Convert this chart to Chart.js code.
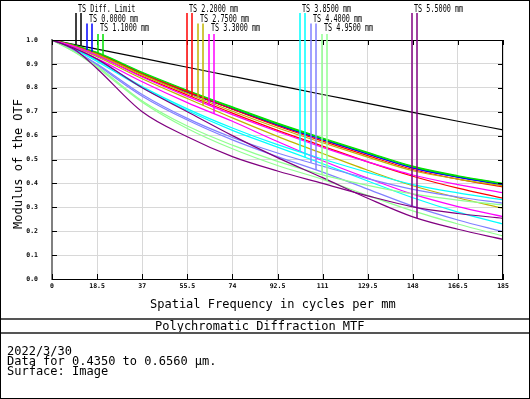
<!DOCTYPE html>
<html>
<head>
<meta charset="utf-8">
<script src="https://cdn.jsdelivr.net/npm/chart.js@4"></script>
<style>
  body { margin: 0; background: #fff; }
  #frame { position: relative; width: 530px; height: 399px; box-sizing: border-box;
    border: 1px solid #000; font-family: 'DejaVu Sans Mono', monospace; color: #000; overflow: hidden; }
  #chart { position: absolute; left: -1px; top: -1px; }
  .txt { position: absolute; font-size: 12px; line-height: 10px; white-space: pre; }
  .lbl { position: absolute; font-size: 10px; line-height: 10px; white-space: pre;
    transform: scaleX(0.68); transform-origin: 0 50%; }
  .sep { position: absolute; left: 0; width: 528px; height: 0; border-top: 2px solid #555; }
</style>
</head>
<body>
<div id="frame">
  <canvas id="chart" width="530" height="399"></canvas>
  <div class="txt" style="left:149px;top:298px">Spatial Frequency in cycles per mm</div>
  <div class="txt" style="left:17px;top:163px;transform:translate(-50%,-50%) rotate(-90deg)">Modulus of the OTF</div>
  <div class="sep" style="top:317px"></div>
  <div class="txt" style="left:154px;top:320px">Polychromatic Diffraction MTF</div>
  <div class="sep" style="top:331px"></div>
  <div class="txt" style="left:6px;top:345px">2022/3/30</div>
  <div class="txt" style="left:6px;top:355px">Data for 0.4350 to 0.6560 µm.</div>
  <div class="txt" style="left:6px;top:365px">Surface: Image</div>
  <div id="labels"></div>
</div>
<script>
// spatial frequency samples (cycles per mm)
const freq = [0, 9.25, 18.5, 37, 55.5, 74, 92.5, 111, 129.5, 148, 166.5, 185]
const xTicks = [0, 18.5, 37, 55.5, 74, 92.5, 111, 129.5, 148, 166.5, 185]
const yTicks = [0, 0.1, 0.2, 0.3, 0.4, 0.5, 0.6, 0.7, 0.8, 0.9, 1.0]

// MTF values
const diffLimit = [1, 0.981, 0.962, 0.924, 0.886, 0.848, 0.810, 0.772, 0.735, 0.697, 0.660, 0.624]
const f0000T = [1, 0.976, 0.944, 0.858, 0.782, 0.712, 0.645, 0.583, 0.523, 0.465, 0.426, 0.394]
const f0000S = [1, 0.976, 0.944, 0.858, 0.782, 0.712, 0.645, 0.583, 0.523, 0.465, 0.426, 0.394]
const f1100T = [1, 0.978, 0.948, 0.865, 0.790, 0.720, 0.652, 0.590, 0.530, 0.472, 0.432, 0.400]
const f1100S = [1, 0.977, 0.946, 0.862, 0.787, 0.717, 0.649, 0.587, 0.527, 0.469, 0.430, 0.398]
const f2200T = [1, 0.975, 0.942, 0.858, 0.784, 0.710, 0.640, 0.577, 0.516, 0.458, 0.418, 0.385]
const f2200S = [1, 0.972, 0.935, 0.848, 0.770, 0.694, 0.622, 0.556, 0.490, 0.430, 0.380, 0.338]
const f2750T = [1, 0.974, 0.940, 0.854, 0.776, 0.702, 0.633, 0.570, 0.510, 0.453, 0.418, 0.390]
const f2750S = [1, 0.970, 0.930, 0.838, 0.755, 0.674, 0.597, 0.525, 0.455, 0.390, 0.340, 0.296]
const f3300T = [1, 0.972, 0.935, 0.845, 0.764, 0.688, 0.617, 0.551, 0.490, 0.435, 0.395, 0.361]
const f3300S = [1, 0.966, 0.922, 0.825, 0.738, 0.660, 0.575, 0.495, 0.422, 0.355, 0.303, 0.261]
const f3850T = [1, 0.962, 0.915, 0.805, 0.712, 0.632, 0.562, 0.502, 0.446, 0.395, 0.360, 0.331]
const f3850S = [1, 0.960, 0.910, 0.800, 0.705, 0.622, 0.552, 0.482, 0.410, 0.340, 0.280, 0.230]
const f4400T = [1, 0.955, 0.900, 0.772, 0.672, 0.592, 0.527, 0.472, 0.420, 0.375, 0.343, 0.317]
const f4400S = [1, 0.955, 0.895, 0.765, 0.665, 0.582, 0.512, 0.447, 0.376, 0.305, 0.247, 0.198]
const f4950T = [1, 0.950, 0.890, 0.745, 0.640, 0.560, 0.492, 0.436, 0.392, 0.356, 0.330, 0.310]
const f4950S = [1, 0.950, 0.885, 0.740, 0.630, 0.545, 0.475, 0.417, 0.350, 0.285, 0.230, 0.180]
const f5500T = [1, 0.960, 0.880, 0.700, 0.595, 0.512, 0.452, 0.400, 0.348, 0.302, 0.274, 0.254]
const f5500S = [1, 0.965, 0.920, 0.800, 0.700, 0.600, 0.508, 0.424, 0.338, 0.260, 0.208, 0.166]

const fieldNames = ['TS Diff. Limit', 'TS 0.0000 mm', 'TS 1.1000 mm', 'TS 2.2000 mm', 'TS 2.7500 mm',
  'TS 3.3000 mm', 'TS 3.8500 mm', 'TS 4.4000 mm', 'TS 4.9500 mm', 'TS 5.5000 mm']
const fieldColors = ['#000000', '#0000ff', '#00e000', '#ff0000', '#c0b400',
  '#ff00ff', '#00ffff', '#8080ff', '#90ff90', '#800080']
const fieldT = [diffLimit, f0000T, f1100T, f2200T, f2750T, f3300T, f3850T, f4400T, f4950T, f5500T]
const fieldS = [diffLimit, f0000S, f1100S, f2200S, f2750S, f3300S, f3850S, f4400S, f4950S, f5500S]

// legend layout: text left edge, text row
const labelX = [78, 89, 100, 189, 200, 211, 302, 313, 324, 414]
const labelRow = [0, 1, 2, 0, 1, 2, 0, 1, 2, 0]

const toPoints = arr => arr.map((v, i) => ({ x: freq[i], y: v }))

// interpolate a series at a given frequency
function valueAt (arr, f) {
  for (let i = 0; i < freq.length - 1; i++) {
    if (f >= freq[i] && f <= freq[i + 1]) {
      const t = (f - freq[i]) / (freq[i + 1] - freq[i])
      return arr[i] + t * (arr[i + 1] - arr[i])
    }
  }
  return arr[arr.length - 1]
}

const datasets = []
for (let i = fieldT.length - 1; i >= 0; i--) {
  datasets.push({ data: toPoints(fieldS[i]), borderColor: fieldColors[i] })
  if (i > 0) datasets.push({ data: toPoints(fieldT[i]), borderColor: fieldColors[i] })
}

// legend text
const labelsDiv = document.getElementById('labels')
fieldNames.forEach((name, i) => {
  const d = document.createElement('div')
  d.className = 'lbl'
  d.textContent = name
  d.style.left = (labelX[i] - 1) + 'px'
  d.style.top = (4 + labelRow[i] * 9.5 - 1) + 'px'
  labelsDiv.appendChild(d)
})

const framePlugin = {
  id: 'frame',
  afterDraw (chart) {
    const { ctx, chartArea: a, scales: { x, y } } = chart
    ctx.save()
    ctx.strokeStyle = '#000'
    ctx.lineWidth = 1
    ctx.beginPath()
    ctx.moveTo(a.left, a.top + 0.5); ctx.lineTo(a.right, a.top + 0.5)
    ctx.moveTo(a.right - 0.5, a.top); ctx.lineTo(a.right - 0.5, a.bottom)
    xTicks.forEach(v => {
      const px = Math.round(x.getPixelForValue(v)) + 0.5
      ctx.moveTo(px, a.bottom); ctx.lineTo(px, a.bottom - 5)
      ctx.moveTo(px, a.top); ctx.lineTo(px, a.top + 5)
    })
    yTicks.forEach(v => {
      const py = Math.round(y.getPixelForValue(v)) + 0.5
      ctx.moveTo(a.left, py); ctx.lineTo(a.left + 5, py)
      ctx.moveTo(a.right, py); ctx.lineTo(a.right - 5, py)
    })
    ctx.stroke()

    // legend marker lines drop from each label to its T and S curves
    ctx.lineWidth = 1.5
    fieldNames.forEach((name, i) => {
      const top = 13 + labelRow[i] * 10.5
      const xs = [labelX[i] - 2, labelX[i] + 3]
      const series = [fieldT[i], fieldS[i]]
      xs.forEach((px, k) => {
        const f = x.getValueForPixel(px)
        const py = y.getPixelForValue(valueAt(series[k], f))
        ctx.strokeStyle = fieldColors[i]
        ctx.beginPath()
        ctx.moveTo(px, top); ctx.lineTo(px, py)
        ctx.stroke()
      })
    })
    ctx.restore()
  }
}

new Chart(document.getElementById('chart'), {
  type: 'line',
  data: { datasets },
  options: {
    responsive: false,
    animation: false,
    layout: { padding: { left: 0, right: 27, top: 40, bottom: 80 } },
    plugins: { legend: { display: false }, tooltip: { enabled: false } },
    elements: { point: { radius: 0 }, line: { borderWidth: 1.2, cubicInterpolationMode: 'monotone' } },
    scales: {
      x: {
        type: 'linear', min: 0, max: 185,
        afterBuildTicks: s => { s.ticks = xTicks.map(v => ({ value: v })) },
        afterFit: s => { s.height = 40 },
        ticks: { padding: 3, color: '#000', font: { family: 'DejaVu Sans Mono', size: 6.5, weight: 'bold' },
          callback: v => String(v) },
        grid: { color: '#d8d8d8', drawTicks: false },
        border: { color: '#000', width: 1 }
      },
      y: {
        min: 0, max: 1,
        afterBuildTicks: s => { s.ticks = yTicks.map(v => ({ value: v })) },
        afterFit: s => { s.width = 52 },
        ticks: { padding: 14, color: '#000', font: { family: 'DejaVu Sans Mono', size: 6.5, weight: 'bold' },
          callback: v => v.toFixed(1) },
        grid: { color: '#d8d8d8', drawTicks: false },
        border: { color: '#808080', width: 2 }
      }
    }
  },
  plugins: [framePlugin]
})
</script>
</body>
</html>
